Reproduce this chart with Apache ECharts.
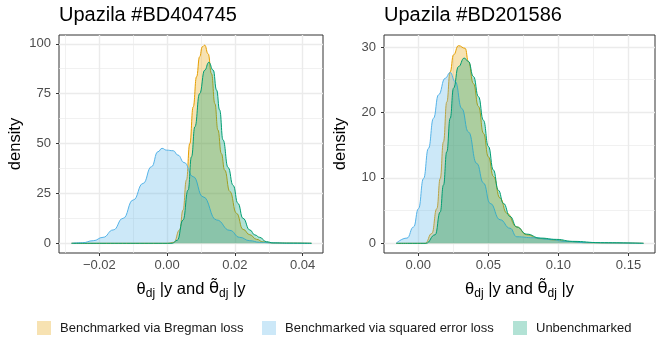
<!DOCTYPE html>
<html>
<head>
<meta charset="utf-8">
<script src="https://cdn.jsdelivr.net/npm/echarts@6/dist/echarts.min.js"></script>
<style>
  html, body { margin: 0; padding: 0; background: #fff; }
  #chart { width: 664px; height: 346px; }
</style>
</head>
<body>
<div id="chart"></div>
<script>
// series names
var names = ['Benchmarked via Bregman loss', 'Benchmarked via squared error loss', 'Unbenchmarked'];
var titles = ['Upazila #BD404745', 'Upazila #BD201586'];

// left panel (BD404745) - density curves
var leftBregX = [-0.0282, 0.000, 0.002, 0.0037, 0.0047, 0.0057, 0.0067, 0.0077, 0.0087, 0.0096, 0.0104, 0.0111, 0.0121, 0.0131, 0.0141, 0.0150, 0.0160, 0.0170, 0.0185, 0.0205, 0.0224, 0.0244, 0.0264, 0.0283, 0.031, 0.036, 0.0426];
var leftBregY = [0, 0, 0.5, 6.7, 16.7, 31.7, 50, 68.4, 83.5, 93.5, 98.5, 99.3, 95, 85, 70, 56.8, 45, 36.7, 26, 15, 7, 4.3, 2, 0.7, 0.2, 0.1, 0];
var leftSqX = [-0.0282, -0.025, -0.0218, -0.0189, -0.0159, -0.0130, -0.0100, -0.0071, -0.0046, -0.0027, -0.0015, -0.0002, 0.0018, 0.0032, 0.0050, 0.0077, 0.0106, 0.0146, 0.0185, 0.0214, 0.0244, 0.0273, 0.031, 0.036, 0.0426];
var leftSqY = [0, 0.3, 1.3, 3, 6.7, 12.5, 21.7, 30, 38.4, 45.9, 47.6, 46.7, 46.4, 44.2, 40.5, 33.4, 23.3, 11.7, 6.5, 3, 1.3, 0.5, 0.2, 0.05, 0];
var leftUnbX = [-0.0282, 0.0015, 0.003, 0.0047, 0.0062, 0.0072, 0.0082, 0.0096, 0.0111, 0.0123, 0.0136, 0.0146, 0.0155, 0.0165, 0.0180, 0.0195, 0.0209, 0.0224, 0.0244, 0.0259, 0.0273, 0.0293, 0.0313, 0.036, 0.0426];
var leftUnbY = [0, 0, 1.5, 11.7, 26.7, 43.4, 58.4, 75, 86.8, 90.7, 86.8, 76.8, 66.8, 51.8, 38, 29, 20, 12.5, 6.7, 4.2, 3, 0.8, 0.2, 0.1, 0];

// right panel (BD201586)
var rightBregX = [-0.0157, 0.005, 0.0097, 0.0133, 0.0157, 0.018, 0.0204, 0.0228, 0.0252, 0.0287, 0.0335, 0.0358, 0.0394, 0.043, 0.0466, 0.0501, 0.0537, 0.0584, 0.0632, 0.0703, 0.0774, 0.087, 0.0987, 0.106, 0.12, 0.14, 0.1607];
var rightBregY = [0, 0, 1.5, 5.3, 9.9, 15.5, 21.6, 26.2, 28.8, 30.2, 29.8, 27.8, 24.4, 20.9, 16.8, 13.2, 10.2, 6.9, 4.6, 2.5, 1.3, 0.7, 0.5, 0.3, 0.1, 0.05, 0];
var rightSqX = [-0.0157, -0.008, -0.0033, 0.0002, 0.0038, 0.0073, 0.0109, 0.0145, 0.0192, 0.0228, 0.0264, 0.0311, 0.0358, 0.0418, 0.0466, 0.0513, 0.0584, 0.0655, 0.0703, 0.082, 0.094, 0.105, 0.12, 0.14, 0.1607];
var rightSqY = [0, 0.8, 2.5, 5.3, 9.9, 14.5, 19.1, 22.7, 25.2, 26.1, 24.7, 20.6, 17, 12.2, 9.2, 6.1, 3.6, 2.3, 1, 0.85, 0.6, 0.3, 0.1, 0.05, 0];
var rightUnbX = [-0.0157, 0.0055, 0.0121, 0.0157, 0.018, 0.0204, 0.0228, 0.0252, 0.0287, 0.0328, 0.0358, 0.0394, 0.043, 0.0465, 0.0501, 0.0536, 0.0572, 0.0608, 0.0655, 0.0703, 0.0774, 0.087, 0.0987, 0.11, 0.13, 0.1607];
var rightUnbY = [0, 0, 1.3, 4.8, 8.9, 14, 19.1, 23.7, 27, 28.3, 27.8, 25.5, 22.4, 18.8, 14.8, 11.2, 8.1, 6.1, 4.1, 2.5, 1.4, 0.8, 0.6, 0.3, 0.1, 0];

// tick values
var leftXTicks = [-0.02, 0, 0.02, 0.04];
var leftXMinor = [-0.03, -0.01, 0.01, 0.03];
var leftYTicks = [0, 25, 50, 75, 100];
var leftYMinor = [12.5, 37.5, 62.5, 87.5];
var rightXTicks = [0, 0.05, 0.1, 0.15];
var rightXMinor = [0.025, 0.075, 0.125];
var rightYTicks = [0, 10, 20, 30];
var rightYMinor = [5, 15, 25];

var colors = ['#E69F00', '#56B4E9', '#009E73'];
var fills = ['rgba(230,159,0,0.3)', 'rgba(86,180,233,0.3)', 'rgba(0,158,115,0.3)'];
var FONT = 'Liberation Sans, Arial, sans-serif';

function pairs(xs, ys) {
    return xs.map(function (x, i) { return [x, ys[i]]; });
}

function fmtX(v) {
    var s = Number(v).toFixed(2);
    return s.charAt(0) === '-' ? '\u2212' + s.slice(1) : s;
}

// theta_dj |y and theta-tilde_dj |y
var xName = '{t|θ}{s|dj}{t| |y and }{g|θ\u0303}{s|dj}{t| |y}';

function mainX(grid, min, max, ticks) {
    return {
        type: 'value', gridIndex: grid, min: min, max: max,
        name: xName, nameLocation: 'middle', nameGap: 25,
        nameTextStyle: {
            color: '#000', fontFamily: FONT,
            rich: {
                t: {fontSize: 16.5, fontFamily: FONT, color: '#000'},
                g: {fontSize: 16.5, fontFamily: 'DejaVu Sans', color: '#000'},
                s: {fontSize: 12, fontFamily: FONT, color: '#000', padding: [10, 0, 0, 0]}
            }
        },
        axisLine: {show: false, onZero: false},
        axisTick: {show: true, length: 3, customValues: ticks, lineStyle: {color: '#333', width: 1}},
        axisLabel: {customValues: ticks, formatter: fmtX, margin: 6, color: '#4D4D4D', fontSize: 13, fontFamily: FONT},
        splitLine: {show: true, lineStyle: {color: '#EBEBEB', width: 1.4}}
    };
}

function minorAxis(type, grid, min, max, ticks) {
    return {
        type: 'value', gridIndex: grid, min: min, max: max,
        position: type === 'x' ? 'top' : 'right',
        axisLine: {show: false, onZero: false},
        axisTick: {show: false, customValues: ticks},
        axisLabel: {show: false},
        splitLine: {show: true, lineStyle: {color: '#EBEBEB', width: 0.7}}
    };
}

function mainY(grid, min, max, ticks) {
    return {
        type: 'value', gridIndex: grid, min: min, max: max,
        position: 'left',
        name: 'density', nameLocation: 'middle', nameGap: 35,
        nameTextStyle: {color: '#000', fontSize: 16.5, fontFamily: FONT},
        axisLine: {show: false, onZero: false},
        axisTick: {show: true, length: 3, customValues: ticks, lineStyle: {color: '#333', width: 1}},
        axisLabel: {customValues: ticks, margin: 8, color: '#4D4D4D', fontSize: 13, fontFamily: FONT},
        splitLine: {show: true, lineStyle: {color: '#EBEBEB', width: 1.4}}
    };
}

function densitySeries(idx, xAxis, yAxis, xs, ys) {
    return {
        name: names[idx], type: 'line',
        xAxisIndex: xAxis, yAxisIndex: yAxis,
        data: pairs(xs, ys),
        showSymbol: false, symbol: 'none',
        smooth: 0.5, smoothMonotone: 'x',
        lineStyle: {color: colors[idx], width: 1},
        itemStyle: {color: colors[idx]},
        areaStyle: {color: fills[idx], opacity: 1},
        z: 2 + idx
    };
}

function legendAt(idx, left) {
    return {
        left: left, top: 321, orient: 'horizontal', padding: 0,
        icon: 'rect', itemWidth: 14, itemHeight: 14,
        selectedMode: false,
        textStyle: {color: '#1A1A1A', fontSize: 13, fontFamily: FONT, padding: [0, 0, 0, 4]},
        data: [{name: names[idx], icon: 'rect', itemStyle: {color: fills[idx], borderWidth: 0}}]
    };
}

var chart = echarts.init(document.getElementById('chart'), null, {renderer: 'canvas'});

var option = {
    backgroundColor: '#fff',
    animation: false,
    title: [
        {text: titles[0], left: 59, top: 5, padding: 0, textStyle: {fontSize: 20, fontWeight: 'normal', color: '#000', fontFamily: FONT}},
        {text: titles[1], left: 384, top: 5, padding: 0, textStyle: {fontSize: 20, fontWeight: 'normal', color: '#000', fontFamily: FONT}}
    ],
    legend: [legendAt(0, 37), legendAt(1, 262), legendAt(2, 513)],
    grid: [
        {left: 59, top: 35, width: 264, height: 218, show: true, borderColor: '#333', borderWidth: 1, backgroundColor: '#fff'},
        {left: 384, top: 35, width: 271, height: 218, show: true, borderColor: '#333', borderWidth: 1, backgroundColor: '#fff'}
    ],
    xAxis: [
        mainX(0, -0.0319, 0.046, leftXTicks),
        minorAxis('x', 0, -0.0319, 0.046, leftXMinor),
        mainX(1, -0.0244, 0.1689, rightXTicks),
        minorAxis('x', 1, -0.0244, 0.1689, rightXMinor)
    ],
    yAxis: [
        mainY(0, -4.86, 104.4, leftYTicks),
        minorAxis('y', 0, -4.86, 104.4, leftYMinor),
        mainY(1, -1.48, 31.83, rightYTicks),
        minorAxis('y', 1, -1.48, 31.83, rightYMinor)
    ],
    series: [
        densitySeries(0, 0, 0, leftBregX, leftBregY),
        densitySeries(1, 0, 0, leftSqX, leftSqY),
        densitySeries(2, 0, 0, leftUnbX, leftUnbY),
        densitySeries(0, 2, 2, rightBregX, rightBregY),
        densitySeries(1, 2, 2, rightSqX, rightSqY),
        densitySeries(2, 2, 2, rightUnbX, rightUnbY)
    ]
};

chart.setOption(option);
</script>
</body>
</html>
